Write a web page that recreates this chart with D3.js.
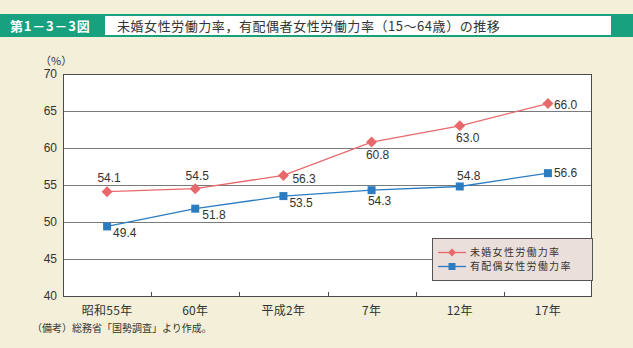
<!DOCTYPE html>
<html>
<head>
<meta charset="utf-8">
<script src="https://cdn.jsdelivr.net/npm/d3@7/dist/d3.min.js"></script>
<style>
  html, body { margin: 0; padding: 0; background: #f3efd8; }
  svg { display: block; }
  text { font-family: "Liberation Sans", Arial, "Noto Sans CJK JP", sans-serif; }
  .jp { font-family: "Noto Sans CJK JP", sans-serif; }
</style>
</head>
<body>
<svg id="chart" width="633" height="348"></svg>
<script>
// Survey years (Showa 55 … Heisei 17)
const categories = ["昭和55年", "60年", "平成2年", "7年", "12年", "17年"];
// Labour force participation rate, unmarried women (15–64), %
const unmarried = [54.1, 54.5, 56.3, 60.8, 63.0, 66.0];
// Labour force participation rate, married women (15–64), %
const married = [49.4, 51.8, 53.5, 54.3, 54.8, 56.6];
const yTicks = [40, 45, 50, 55, 60, 65, 70];
const seriesNames = ["未婚女性労働力率", "有配偶女性労働力率"];

// label placement for each point: [dx, dy, anchor]
const unmarriedLabelPos = [
  [2, -10, "middle"], [2, -9, "middle"], [9, 8, "start"],
  [6, 17, "middle"], [8, 16, "middle"], [6, 5, "start"]
];
const marriedLabelPos = [
  [6, 11, "start"], [7, 10, "start"], [6, 11, "start"],
  [8, 15, "middle"], [9, -6, "middle"], [6, 4, "start"]
];

const svg = d3.select("#chart");
const W = 633, H = 348;
const plot = { left: 63, right: 592, top: 74, bottom: 296 };

// Header band
svg.append("rect").attr("x", 0).attr("y", 14).attr("width", W).attr("height", 23)
  .attr("fill", "#18a17f");
svg.append("rect").attr("x", 105).attr("y", 16).attr("width", 506).attr("height", 19)
  .attr("fill", "#ffffff");
svg.append("text").attr("class", "jp").attr("x", 10).attr("y", 30.5)
  .attr("fill", "#ffffff").attr("font-size", 13).attr("font-weight", "bold")
  .attr("letter-spacing", 0.8)
  .text("第1－3－3図");
svg.append("text").attr("class", "jp").attr("x", 117).attr("y", 30.5)
  .attr("fill", "#333333").attr("font-size", 13).attr("letter-spacing", 0.55)
  .text("未婚女性労働力率，有配偶者女性労働力率（15～64歳）の推移");

const x = d3.scaleBand().domain(categories).range([plot.left, plot.right]).padding(0);
const y = d3.scaleLinear().domain([40, 70]).range([plot.bottom, plot.top]);
const cx = d => x(d) + x.bandwidth() / 2;

// Plot background
svg.append("rect").attr("x", plot.left).attr("y", plot.top)
  .attr("width", plot.right - plot.left).attr("height", plot.bottom - plot.top)
  .attr("fill", "#ffffff");

// Gridlines
svg.append("g").selectAll("line").data(yTicks.filter(t => t > 40 && t < 70)).join("line")
  .attr("x1", plot.left).attr("x2", plot.right)
  .attr("y1", d => Math.round(y(d)) + 0.5).attr("y2", d => Math.round(y(d)) + 0.5)
  .attr("stroke", "#7a7a7a").attr("stroke-width", 1);

// Frame
svg.append("rect").attr("x", plot.left + 0.5).attr("y", plot.top + 0.5)
  .attr("width", plot.right - plot.left - 1).attr("height", plot.bottom - plot.top)
  .attr("fill", "none").attr("stroke", "#4a4a4a").attr("stroke-width", 1);

// Y axis labels
const yAxis = d3.axisLeft(y).tickValues(yTicks).tickSize(0).tickPadding(6);
const gy = svg.append("g").attr("transform", `translate(${plot.left},0)`).call(yAxis);
gy.select(".domain").remove();
gy.selectAll("text").attr("font-size", 12).attr("fill", "#333333")
  .attr("font-family", "'Liberation Sans', Arial, sans-serif");
svg.append("text").attr("class", "jp").attr("x", 40).attr("y", 65)
  .attr("font-size", 11).attr("fill", "#333333").text("（%）");

// X axis: inner ticks at band boundaries, labels at band centres
const gx = svg.append("g").attr("transform", `translate(0,${plot.bottom})`)
  .call(d3.axisBottom(x).tickSize(0).tickPadding(10));
gx.select(".domain").remove();
gx.selectAll("text").attr("class", "jp").attr("font-size", 12).attr("fill", "#333333")
  .attr("letter-spacing", 0.3);
svg.append("g").selectAll("line").data(categories.slice(1)).join("line")
  .attr("x1", d => Math.round(x(d)) + 0.5).attr("x2", d => Math.round(x(d)) + 0.5)
  .attr("y1", plot.bottom - 4).attr("y2", plot.bottom)
  .attr("stroke", "#4a4a4a");

const red = "#e8696c", blue = "#2b7cc0";
const line = d3.line().x((d, i) => cx(categories[i])).y(d => y(d));

// Diamond marker path centred on the origin
const diamondPath = (hw, hh) => `M0,${-hh}L${hw},0L0,${hh}L${-hw},0Z`;

// Series lines
svg.append("path").datum(unmarried).attr("d", line)
  .attr("fill", "none").attr("stroke", red).attr("stroke-width", 1.3);
svg.append("path").datum(married).attr("d", line)
  .attr("fill", "none").attr("stroke", blue).attr("stroke-width", 1.3);

// Markers
svg.append("g").selectAll("path").data(unmarried).join("path")
  .attr("d", diamondPath(5.5, 5.5))
  .attr("transform", (d, i) => `translate(${cx(categories[i])},${y(d)})`)
  .attr("fill", red);
svg.append("g").selectAll("rect").data(married).join("rect")
  .attr("x", (d, i) => cx(categories[i]) - 4).attr("y", d => y(d) - 4)
  .attr("width", 8).attr("height", 8).attr("fill", blue);

// Value labels
function valueLabels(data, pos) {
  svg.append("g").selectAll("text").data(data).join("text")
    .attr("x", (d, i) => cx(categories[i]) + pos[i][0])
    .attr("y", (d, i) => y(d) + pos[i][1])
    .attr("text-anchor", (d, i) => pos[i][2])
    .attr("font-size", 12).attr("fill", "#333333")
    .text(d => d.toFixed(1));
}
valueLabels(unmarried, unmarriedLabelPos);
valueLabels(married, marriedLabelPos);

// Legend
const lg = svg.append("g").attr("transform", "translate(432,238)");
lg.append("rect").attr("x", 0.5).attr("y", 0.5).attr("width", 160).attr("height", 42)
  .attr("fill", "#ebdfdb").attr("stroke", "#555555");
[[red, "diamond"], [blue, "square"]].forEach(([c, shape], i) => {
  const yy = 14.5 + i * 14;
  lg.append("line").attr("x1", 6).attr("x2", 34).attr("y1", yy).attr("y2", yy)
    .attr("stroke", c).attr("stroke-width", 1.3);
  if (shape === "diamond") {
    lg.append("path").attr("d", diamondPath(4, 4))
      .attr("transform", `translate(20,${yy})`).attr("fill", c);
  } else {
    lg.append("rect").attr("x", 16.5).attr("y", yy - 3.5).attr("width", 7).attr("height", 7)
      .attr("fill", c);
  }
  lg.append("text").attr("class", "jp").attr("x", 38).attr("y", yy + 3.8)
    .attr("font-size", 10).attr("letter-spacing", 1.3).attr("fill", "#333333")
    .text(seriesNames[i]);
});

// Source note
svg.append("text").attr("class", "jp").attr("x", 32).attr("y", 332)
  .attr("font-size", 10).attr("fill", "#333333")
  .text("（備考）総務省「国勢調査」より作成。");
</script>
</body>
</html>
